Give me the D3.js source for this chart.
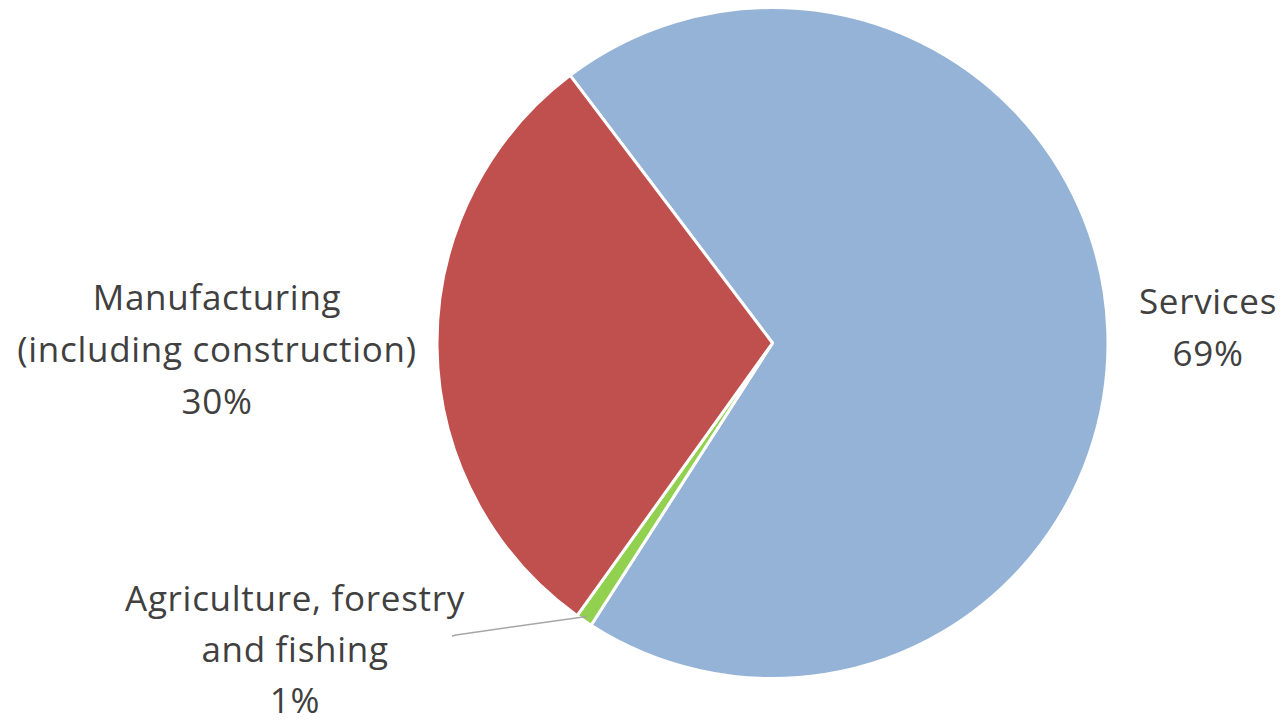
<!DOCTYPE html>
<html>
<head>
<meta charset="utf-8">
<script src="https://cdn.jsdelivr.net/npm/d3@7"></script>
<style>
  html, body { margin: 0; padding: 0; background: #fff; }
  svg { display: block; }
  text { font-family: "Open Sans", Lato, sans-serif; fill: #404040; }
</style>
</head>
<body>
<svg id="chart" width="1281" height="721"></svg>
<script>
const categories = ["Services", "Agriculture, forestry and fishing", "Manufacturing (including construction)"];
const values = [69.4, 0.8, 29.8];
const percentLabels = ["69%", "1%", "30%"];
const labelLines = [
  ["Services", "69%"],
  ["Agriculture, forestry", "and fishing", "1%"],
  ["Manufacturing", "(including construction)", "30%"]
];
const colors = ["#95B3D7", "#92D050", "#C0504D"];

const svg = d3.select("#chart");
const cx = 772.5, cy = 343, r = 335.5;
const startDeg = -37.1;

const pie = d3.pie().sort(null).value(d => d)
  .startAngle(startDeg * Math.PI / 180)
  .endAngle((startDeg + 360) * Math.PI / 180);
const arcs = pie(values);
const arc = d3.arc().innerRadius(0).outerRadius(r);

const g = svg.append("g").attr("transform", `translate(${cx},${cy})`);
g.selectAll("path").data(arcs).join("path")
  .attr("d", arc)
  .attr("fill", (d, i) => colors[i])
  .attr("stroke", "#fff")
  .attr("stroke-width", 3)
  .attr("stroke-linejoin", "round");

const labelPos = [
  { x: 1208, y: 314, lh: 52 },
  { x: 295, y: 611, lh: 51 },
  { x: 217, y: 310, lh: 52 }
];
const fontSize = 35;

labelLines.forEach((lines, i) => {
  const t = svg.append("text")
    .attr("text-anchor", "middle")
    .attr("font-size", fontSize)
    .attr("letter-spacing", 0.7);
  lines.forEach((ln, j) => {
    t.append("tspan").attr("x", labelPos[i].x).attr("y", labelPos[i].y + j * labelPos[i].lh).text(ln);
  });
});

const a = arcs[1];
const mid = (a.startAngle + a.endAngle) / 2;
const px = cx + Math.sin(mid) * r * 0.985, py = cy - Math.cos(mid) * r * 0.985;
svg.append("path")
  .attr("d", `M452,636 L456,635 L${px},${py}`)
  .attr("fill", "none")
  .attr("stroke", "#A6A6A6")
  .attr("stroke-width", 1.5);
</script>
</body>
</html>
